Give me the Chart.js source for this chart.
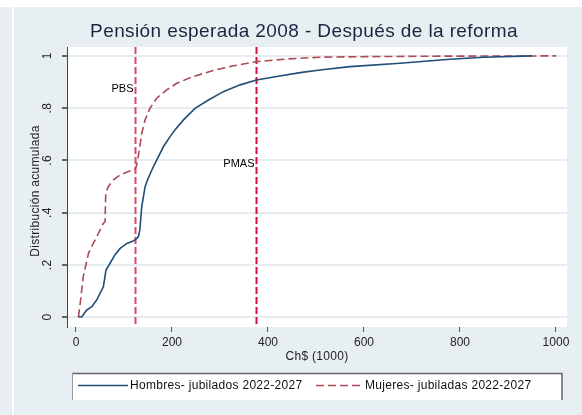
<!DOCTYPE html>
<html>
<head>
<meta charset="utf-8">
<script src="https://cdn.jsdelivr.net/npm/chart.js@4.4.1/dist/chart.umd.min.js"></script>
<style>
  html, body { margin: 0; padding: 0; background: #ffffff; }
  #wrap { width: 582px; height: 415px; position: relative; }
</style>
</head>
<body>
<div id="wrap"><canvas id="cdf" width="582" height="415"></canvas></div>
<script>
// Expected pension (Ch$ thousands) and cumulative share, men retiring 2022-2027
const menPension = [5, 12, 22, 33, 43, 57, 62.5, 71, 81, 92, 106, 119, 125, 130, 133, 137, 144, 149, 158, 168, 182, 196, 206, 224, 248, 276, 307, 342, 376, 418, 467, 508, 571, 675, 779, 849, 950];
const menShare   = [0, 0, 0.027, 0.04, 0.065, 0.116, 0.18, 0.206, 0.238, 0.263, 0.282, 0.291, 0.298, 0.308, 0.333, 0.423, 0.499, 0.525, 0.563, 0.601, 0.652, 0.691, 0.716, 0.755, 0.799, 0.831, 0.863, 0.889, 0.908, 0.921, 0.936, 0.946, 0.959, 0.972, 0.987, 0.995, 1.0];

// Same for women retiring 2022-2027
const womenPension = [5, 8, 15, 26, 36, 46.5, 57, 60.5, 62, 67, 78, 92, 109, 123, 126.5, 132, 137, 144, 154, 168, 189, 210, 244, 286, 328, 376, 439, 508, 605, 764, 1000];
const womenShare   = [0, 0.04, 0.154, 0.244, 0.282, 0.32, 0.359, 0.365, 0.474, 0.499, 0.525, 0.544, 0.557, 0.566, 0.582, 0.64, 0.704, 0.755, 0.799, 0.838, 0.87, 0.895, 0.921, 0.944, 0.962, 0.978, 0.988, 0.995, 0.997, 0.999, 1.0];

// Reference pension levels
const refNames  = ['PBS', 'PMAS'];
const refValues = [123, 376];
const refLabelY = [0.874, 0.586];

const xTicks = [0, 200, 400, 600, 800, 1000];
const yTicks = [0, 0.2, 0.4, 0.6, 0.8, 1];
const yTickLabels = ['0', '.2', '.4', '.6', '.8', '1'];

const seriesNames = ['Hombres- jubilados 2022-2027', 'Mujeres- jubiladas 2022-2027'];

const FONT = '"Liberation Sans", Arial, sans-serif';
const BG = '#e8eff2';
const MEN_COLOR = '#1f4e79';
const WOMEN_COLOR = '#ad4a55';

const toPoints = (xs, ys) => xs.map((x, i) => ({ x: x, y: ys[i] }));

const decor = {
  id: 'decor',
  beforeDraw(chart) {
    const { ctx, chartArea: a } = chart;
    ctx.save();
    ctx.fillStyle = '#ffffff';
    ctx.fillRect(0, 0, chart.width, chart.height);
    ctx.fillStyle = BG;
    ctx.fillRect(0, 7, chart.width, chart.height - 7);
    ctx.fillStyle = '#ffffff';
    ctx.fillRect(12, 7, 2, chart.height - 7);
    // plot region
    ctx.fillRect(a.left, a.top, a.right - a.left, a.bottom - a.top);
    ctx.restore();
  },
  beforeDatasetsDraw(chart) {
    const { ctx, chartArea: a, scales } = chart;
    ctx.save();
    refValues.forEach((v, i) => {
      const px = Math.round(scales.x.getPixelForValue(v)) + 0.5;
      ctx.strokeStyle = i === 0 ? '#d94a6a' : '#d0103a';
      ctx.lineWidth = 2;
      ctx.setLineDash([7, 3]);
      ctx.beginPath();
      ctx.moveTo(px, a.top);
      ctx.lineTo(px, a.bottom);
      ctx.stroke();
      ctx.setLineDash([]);
      ctx.fillStyle = '#000000';
      ctx.font = '11px ' + FONT;
      ctx.textAlign = 'right';
      ctx.textBaseline = 'middle';
      ctx.fillText(refNames[i], px - 2, scales.y.getPixelForValue(refLabelY[i]));
    });
    ctx.restore();
  },
  afterDraw(chart) {
    const { ctx, scales } = chart;
    ctx.save();
    // title
    ctx.fillStyle = '#1c2540';
    ctx.font = '19px ' + FONT;
    ctx.letterSpacing = '0.4px';
    ctx.textAlign = 'center';
    ctx.textBaseline = 'middle';
    ctx.fillText('Pensión esperada 2008 - Después de la reforma', 304, 32);

    // y tick labels, rotated
    ctx.letterSpacing = '0.3px';
    ctx.fillStyle = '#222222';
    ctx.font = '12px ' + FONT;
    yTicks.forEach((v, i) => {
      const py = scales.y.getPixelForValue(v);
      ctx.save();
      ctx.translate(48, py);
      ctx.rotate(-Math.PI / 2);
      ctx.textAlign = 'center';
      ctx.textBaseline = 'middle';
      ctx.fillText(yTickLabels[i], 0, 0);
      ctx.restore();
    });
    // y title
    ctx.save();
    ctx.translate(36, 191);
    ctx.rotate(-Math.PI / 2);
    ctx.textAlign = 'center';
    ctx.textBaseline = 'middle';
    ctx.fillText('Distribución acumulada', 0, 0);
    ctx.restore();
    // x title
    ctx.textAlign = 'center';
    ctx.textBaseline = 'middle';
    ctx.fillText('Ch$ (1000)', 317, 357);

    // legend box
    const lx = 72, ly = 373, lw = 490, lh = 27;
    ctx.fillStyle = '#ffffff';
    ctx.fillRect(lx, ly, lw, lh);
    ctx.strokeStyle = '#666666';
    ctx.lineWidth = 1.5;
    ctx.beginPath();
    ctx.moveTo(lx, ly + 0.5);
    ctx.lineTo(lx + lw, ly + 0.5);
    ctx.lineTo(lx + lw, ly + lh);
    ctx.stroke();
    ctx.strokeStyle = '#9a9a9a';
    ctx.lineWidth = 1;
    ctx.beginPath();
    ctx.moveTo(lx + 0.5, ly);
    ctx.lineTo(lx + 0.5, ly + lh);
    ctx.stroke();

    const rowY = 385.5;
    ctx.lineWidth = 1.5;
    ctx.strokeStyle = MEN_COLOR;
    ctx.beginPath();
    ctx.moveTo(78, rowY);
    ctx.lineTo(128, rowY);
    ctx.stroke();
    ctx.strokeStyle = WOMEN_COLOR;
    ctx.setLineDash([8, 4]);
    ctx.beginPath();
    ctx.moveTo(316, rowY);
    ctx.lineTo(362, rowY);
    ctx.stroke();
    ctx.setLineDash([]);
    ctx.fillStyle = '#111111';
    ctx.font = '12px ' + FONT;
    ctx.textAlign = 'left';
    ctx.fillText(seriesNames[0], 130, rowY);
    ctx.fillText(seriesNames[1], 365, rowY);
    ctx.restore();
  }
};

new Chart(document.getElementById('cdf'), {
  type: 'scatter',
  data: {
    datasets: [
      {
        label: seriesNames[0],
        data: toPoints(menPension, menShare),
        showLine: true,
        borderColor: MEN_COLOR,
        borderWidth: 1.6,
        pointRadius: 0,
        tension: 0
      },
      {
        label: seriesNames[1],
        data: toPoints(womenPension, womenShare),
        showLine: true,
        borderColor: WOMEN_COLOR,
        borderWidth: 1.6,
        borderDash: [8, 4],
        pointRadius: 0,
        tension: 0
      }
    ]
  },
  options: {
    responsive: false,
    animation: false,
    devicePixelRatio: 1,
    layout: { padding: { top: 47, right: 15, bottom: 0, left: 0 } },
    plugins: { legend: { display: false }, tooltip: { enabled: false }, title: { display: false } },
    scales: {
      x: {
        type: 'linear',
        min: -18.75,
        max: 1023,
        afterBuildTicks: s => { s.ticks = xTicks.map(v => ({ value: v })); },
        afterFit: s => { s.height = 88; },
        border: { display: false },
        grid: { drawOnChartArea: false, drawTicks: true, tickLength: 5, tickColor: '#555555', lineWidth: 1 },
        ticks: {
          padding: 3,
          color: '#222222',
          font: { family: FONT, size: 12 },
          maxRotation: 0,
          callback: v => String(v)
        }
      },
      y: {
        type: 'linear',
        min: -0.038,
        max: 1.034,
        afterBuildTicks: s => { s.ticks = yTicks.map(v => ({ value: v })); },
        afterFit: s => { s.width = 67; },
        border: { display: true, color: '#444444', width: 1 },
        grid: { color: '#e6edf0', lineWidth: 2, drawTicks: true, tickLength: 5, tickColor: '#666666' },
        ticks: { display: false }
      }
    }
  },
  plugins: [decor]
});
</script>
</body>
</html>
